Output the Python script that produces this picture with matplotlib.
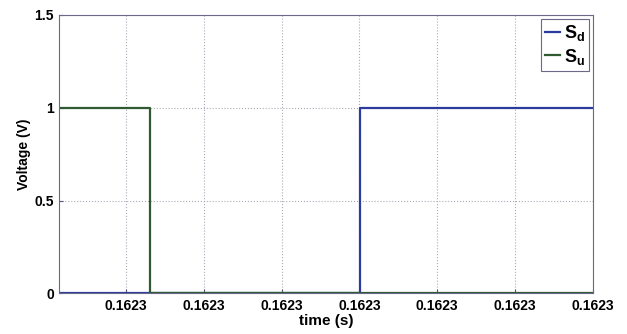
import matplotlib
matplotlib.use("Agg")
import matplotlib.pyplot as plt
from matplotlib.ticker import FormatStrFormatter

plt.rcParams['font.family'] = ['Liberation Sans', 'DejaVu Sans']
plt.rcParams['font.weight'] = 'bold'
plt.rcParams['mathtext.fontset'] = 'custom'
plt.rcParams['mathtext.rm'] = 'Liberation Sans:bold'
plt.rcParams['mathtext.it'] = 'Liberation Sans:bold'
plt.rcParams['mathtext.bf'] = 'Liberation Sans:bold'

# Switching signals (time in s, voltage in V)
t_start = 0.16230028
t_end = 0.162314
su_time = [t_start, 0.16230262, 0.16230262, t_end]
su_volt = [1, 1, 0, 0]
sd_time = [t_start, 0.16230802, 0.16230802, t_end]
sd_volt = [0, 0, 1, 1]
x_ticks = [0.162302, 0.162304, 0.162306, 0.162308, 0.162310, 0.162312, 0.162314]
y_ticks = [0, 0.5, 1, 1.5]
y_tick_labels = ['0', '0.5', '1', '1.5']

fig = plt.figure(figsize=(6.27, 3.34), dpi=100)
ax = fig.add_axes([0.0946, 0.1219, 0.8507, 0.8332])

ax.plot(sd_time, sd_volt, color='#2b3c9c', lw=1.6, label='$\\mathbf{S_d}$')
ax.plot(su_time, su_volt, color='#2f5a32', lw=1.6, label='$\\mathbf{S_u}$')

ax.set_xlim(t_start, t_end)
ax.set_ylim(0, 1.5)
ax.set_xticks(x_ticks)
ax.xaxis.set_major_formatter(FormatStrFormatter('%.4f'))
ax.set_yticks(y_ticks)
ax.set_yticklabels(y_tick_labels)
ax.tick_params(direction='in', length=3, labelsize=10, color='#555577', pad=4)
for lbl in ax.get_xticklabels() + ax.get_yticklabels():
    lbl.set_fontweight('bold')

ax.grid(True, linestyle=':', color='#aaaab8', lw=0.8)
for s in ax.spines.values():
    s.set_color('#6a6a88')
    s.set_linewidth(0.8)

ax.set_xlabel('time (s)', fontsize=11, fontweight='bold', labelpad=1)
ax.set_ylabel('Voltage (V)', fontsize=10, fontweight='bold', labelpad=2)

leg = ax.legend(loc='upper right', fontsize=13, handlelength=0.8, handletextpad=0.2,
                borderpad=0.25, labelspacing=0.2, fancybox=False, framealpha=1,
                borderaxespad=0.2)
leg.get_frame().set_edgecolor('#6a6a88')
leg.get_frame().set_linewidth(0.8)

fig.savefig('out.png', dpi=100)
